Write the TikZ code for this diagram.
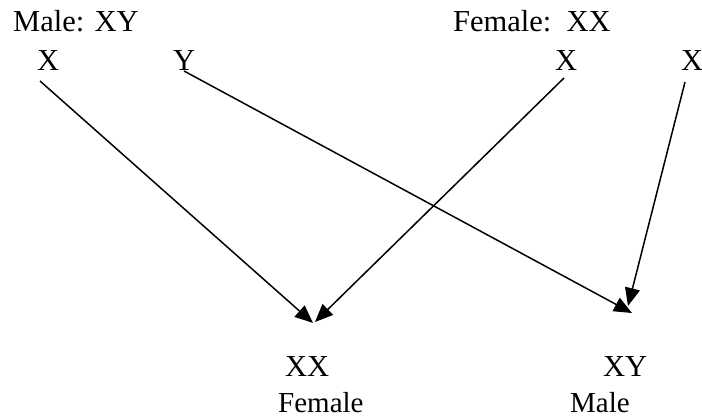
\documentclass[tikz,border=0pt]{standalone}
\usepackage{fontspec}
\setmainfont{Liberation Serif}
\usetikzlibrary{arrows.meta}
\begin{document}
\begin{tikzpicture}[x=1pt,y=-1pt,
  lbl/.style={anchor=base west,inner sep=0pt,font=\fontsize{30.5}{36}\selectfont},
  small/.style={anchor=base west,inner sep=0pt,font=\fontsize{29}{34}\selectfont},
  arr/.style={line width=1.5pt,-{Triangle[length=18pt,width=15pt]}}]
\useasboundingbox (0,0) rectangle (702,417);
\node[lbl] (mhead) at (13,32) {Male: XY};
\node[lbl] (fhead) at (453,32) {Female:\ \ XX};
\node[lbl] (mx) at (37,71) {X};
\node[lbl] (my) at (173,71) {Y};
\node[lbl] (fx1) at (555,71) {X};
\node[lbl] (fx2) at (681,71) {X};
\node[lbl] (cxx) at (285,376) {XX};
\node[small] (cf) at (278,412) {Female};
\node[lbl] (cxy) at (603,376) {XY};
\node[small] (cm) at (570,412) {Male};
\coordinate (s1) at (40,81);
\coordinate (s2) at (184,71);
\coordinate (s3) at (564,78);
\coordinate (s4) at (685,82);
\coordinate (t1) at (313,323);
\coordinate (t2) at (632,313);
\coordinate (t3) at (315,322);
\coordinate (t4) at (628,306);
\draw[arr] (s1) -- (t1);
\draw[arr] (s2) -- (t2);
\draw[arr] (s3) -- (t3);
\draw[arr] (s4) -- (t4);
\end{tikzpicture}
\end{document}
